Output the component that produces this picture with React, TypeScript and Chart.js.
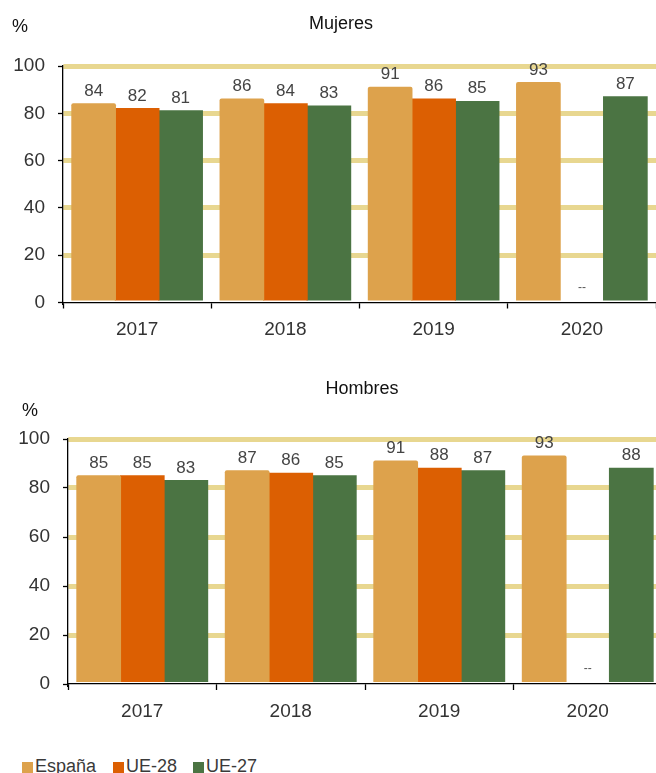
import React, { useEffect, useRef } from "react";
import { Chart, registerables } from "chart.js";

Chart.register(...registerables);

// ---- data ----
const categories = ["2017", "2018", "2019", "2020"];
const seriesNames = ["España", "UE-28", "UE-27"];
const mujeresEspana = [84, 86, 91, 93];
const mujeresUE28: (number | null)[] = [82, 84, 86, null];
const mujeresUE27 = [81, 83, 85, 87];
const hombresEspana = [85, 87, 91, 93];
const hombresUE28: (number | null)[] = [85, 86, 88, null];
const hombresUE27 = [83, 85, 87, 88];
const yTicks = [0, 20, 40, 60, 80, 100];
const missingLabel = "--";

// ---- styles ----
const COLORS = ["#DDA24C", "#DC5F02", "#4B7443"];
const GRID = "#E8D790";
const FONT = "'Liberation Sans', Arial, Helvetica, sans-serif";

const annotatePlugin = {
  id: "annotate",
  afterDatasetsDraw(chart: any) {
    const ctx = chart.ctx;
    const yScale = chart.scales.y;
    const y0 = yScale.getPixelForValue(0);
    chart.data.datasets.forEach((ds: any, di: number) => {
      const meta = chart.getDatasetMeta(di);
      meta.data.forEach((el: any, i: number) => {
        const v = ds.data[i];
        let x = el.x;
        if (!isFinite(x)) {
          const a = chart.getDatasetMeta(0).data[i];
          const b = chart.getDatasetMeta(2).data[i];
          x = (a.x + b.x) / 2;
        }
        ctx.save();
        ctx.textAlign = "center";
        if (v == null) {
          ctx.font = `12px ${FONT}`;
          ctx.fillStyle = "#555";
          ctx.textBaseline = "middle";
          ctx.fillText(missingLabel, x, y0 - 15);
        } else {
          ctx.font = `17px ${FONT}`;
          ctx.fillStyle = "#444";
          ctx.textBaseline = "alphabetic";
          ctx.fillText(String(v), x, el.y - 8);
        }
        ctx.restore();
      });
    });
  },
  afterDraw(chart: any, _args: any, opts: any) {
    const ctx = chart.ctx;
    ctx.save();
    ctx.textAlign = "center";
    ctx.textBaseline = "middle";
    ctx.fillStyle = "#111";
    ctx.font = `18px ${FONT}`;
    ctx.fillText(opts.title, opts.tx, opts.ty);
    ctx.fillText("%", opts.px, opts.py);
    ctx.restore();
  },
};

function makeConfig(
  espana: (number | null)[],
  ue28: (number | null)[],
  ue27: (number | null)[],
  layout: { padTop: number; yWidth: number; xHeight: number },
  annot: { title: string; tx: number; ty: number; px: number; py: number }
): any {
  const series = [espana, ue28, ue27];
  return {
    type: "bar",
    data: {
      labels: categories,
      datasets: series.map((d, i) => ({
        label: seriesNames[i],
        data: d,
        backgroundColor: COLORS[i],
        borderWidth: 0,
        borderRadius: i === 0 ? 2 : 0,
        inflateAmount: 0.6,
        categoryPercentage: 0.88,
        barPercentage: 1.0,
      })),
    },
    options: {
      responsive: false,
      animation: false,
      layout: { padding: { top: layout.padTop, left: 0, right: 0, bottom: 0 } },
      plugins: {
        legend: { display: false },
        tooltip: { enabled: false },
        title: { display: false },
        annotate: annot,
      },
      scales: {
        x: {
          z: 1,
          grid: {
            drawOnChartArea: false,
            drawTicks: true,
            tickLength: 6,
            tickColor: "#000",
            tickWidth: 1.3,
            offset: true,
          },
          border: { display: true, color: "#000", width: 1.3 },
          ticks: {
            font: { family: FONT, size: 19 },
            color: "#333",
            padding: 10,
            maxRotation: 0,
          },
          afterFit: (s: any) => {
            s.height = layout.xHeight;
          },
        },
        y: {
          min: 0,
          max: 100,
          afterBuildTicks: (s: any) => {
            s.ticks = yTicks.map((v) => ({ value: v }));
          },
          grid: {
            color: (c: any) =>
              c.tick && c.tick.value === 0 ? "rgba(0,0,0,0)" : GRID,
            lineWidth: 5,
            drawTicks: true,
            tickLength: 5,
            tickColor: "#000",
            tickWidth: 1.3,
          },
          border: { display: true, color: "#000", width: 1.3 },
          ticks: {
            font: { family: FONT, size: 19 },
            color: "#333",
            padding: 13,
          },
          afterFit: (s: any) => {
            s.width = layout.yWidth;
          },
        },
      },
    },
    plugins: [annotatePlugin],
  };
}

export default function App() {
  const ref1 = useRef<HTMLCanvasElement>(null);
  const ref2 = useRef<HTMLCanvasElement>(null);

  useEffect(() => {
    const c1 = new Chart(
      ref1.current as HTMLCanvasElement,
      makeConfig(
        mujeresEspana,
        mujeresUE28,
        mujeresUE27,
        { padTop: 66, yWidth: 63, xHeight: 42.5 },
        { title: "Mujeres", tx: 341, ty: 24, px: 20, py: 27 }
      )
    );
    const c2 = new Chart(
      ref2.current as HTMLCanvasElement,
      makeConfig(
        hombresEspana,
        hombresUE28,
        hombresUE27,
        { padTop: 79, yWidth: 68, xHeight: 43 },
        { title: "Hombres", tx: 362, ty: 29.5, px: 30, py: 51.5 }
      )
    );
    return () => {
      c1.destroy();
      c2.destroy();
    };
  }, []);

  const legendItems = [
    { sq: 22, tx: 35 },
    { sq: 113, tx: 126 },
    { sq: 193, tx: 206 },
  ];

  return (
    <div
      style={{
        position: "fixed",
        left: 0,
        top: 0,
        width: 656,
        height: 773,
        overflow: "hidden",
        background: "#fff",
        fontFamily: FONT,
      }}
    >
      <canvas
        ref={ref1}
        width={656}
        height={345}
        style={{ position: "absolute", left: 0, top: 0, width: 656, height: 345 }}
      />
      <canvas
        ref={ref2}
        width={662}
        height={367}
        style={{ position: "absolute", left: 0, top: 360, width: 662, height: 367 }}
      />
      {seriesNames.map((name, i) => (
        <React.Fragment key={name}>
          <div
            style={{
              position: "absolute",
              left: legendItems[i].sq,
              top: 762,
              width: 11,
              height: 11,
              background: COLORS[i],
            }}
          />
          <div
            style={{
              position: "absolute",
              left: legendItems[i].tx,
              top: 757,
              fontSize: 18,
              lineHeight: "18px",
              color: "#3a3a3a",
              whiteSpace: "nowrap",
            }}
          >
            {name}
          </div>
        </React.Fragment>
      ))}
    </div>
  );
}
